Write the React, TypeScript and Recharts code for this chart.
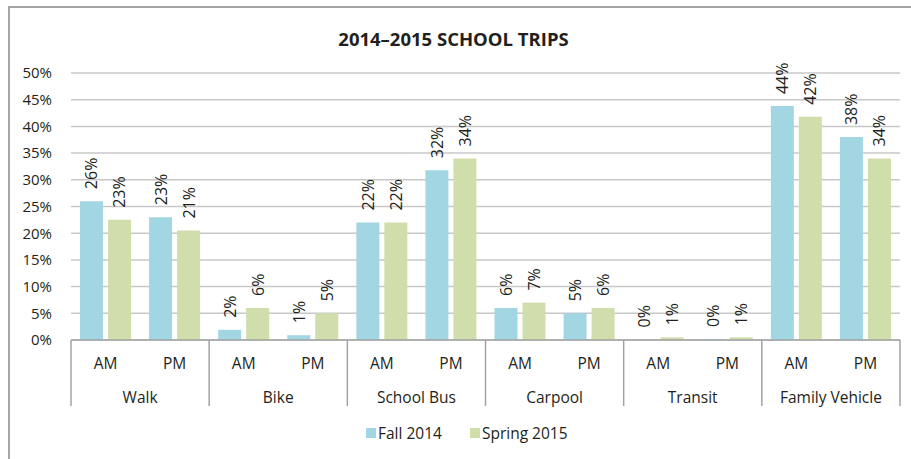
import { BarChart, Bar, XAxis, YAxis, CartesianGrid, LabelList } from 'recharts';

// Trip share by mode and time of day (percent)
const modes = ['Walk', 'Bike', 'School Bus', 'Carpool', 'Transit', 'Family Vehicle'];
const periods = ['AM', 'PM'];
const fall2014 = [26, 23, 1.9, 0.9, 22, 31.8, 6, 5, 0.1, 0.2, 43.8, 38];
const spring2015 = [22.5, 20.5, 6, 5, 22, 34, 7, 6, 0.5, 0.5, 41.8, 34];
const yTicks = [0, 5, 10, 15, 20, 25, 30, 35, 40, 45, 50];

const FALL = '#a3d6e3';
const SPRING = '#cfdeab';
const FONT = '"Open Sans", "DejaVu Sans", sans-serif';
const TEXT = '#231f20';

const CHART_W = 901;
const CHART_H = 451;
const MARGIN = { top: 65, right: 11, left: 11, bottom: 53 };
const Y_W = 50;
const PLOT_W = CHART_W - MARGIN.left - MARGIN.right - Y_W;

const data = modes.flatMap((mode, m) =>
  periods.map((period, p) => ({
    mode,
    period,
    fall: fall2014[m * 2 + p],
    spring: spring2015[m * 2 + p],
  }))
);

const slot = PLOT_W / data.length;

// two-row category axis: AM/PM on top, mode name below, with group dividers
const CategoryTick = (props: any) => {
  const { x, y, index, payload } = props;
  const row = data[index];
  const isFirst = index % 2 === 0;
  const isLast = index === data.length - 1;
  return (
    <g>
      <text
        x={x}
        y={y + 23}
        textAnchor="middle"
        dominantBaseline="central"
        fontSize={15.5}
        fontFamily={FONT}
        fill={TEXT}
      >
        {payload.value}
      </text>
      {isFirst && (
        <>
          <line x1={x - slot / 2} x2={x - slot / 2} y1={y} y2={y + 66} stroke="#a3a3a3" strokeWidth={1.5} />
          <text
            x={x + slot / 2}
            y={y + 57}
            textAnchor="middle"
            dominantBaseline="central"
            fontSize={15.5}
            fontFamily={FONT}
            fill={TEXT}
          >
            {row.mode}
          </text>
        </>
      )}
      {isLast && (
        <line x1={x + slot / 2} x2={x + slot / 2} y1={y} y2={y + 66} stroke="#a3a3a3" strokeWidth={1.5} />
      )}
    </g>
  );
};

const VerticalLabel = (props: any) => {
  const { x, y, width, value } = props;
  const cx = x + width / 2;
  const cy = y - 12;
  return (
    <text
      x={cx}
      y={cy}
      transform={`rotate(-90 ${cx} ${cy})`}
      textAnchor="start"
      dominantBaseline="central"
      fontSize={16}
      fontFamily={FONT}
      fill={TEXT}
    >
      {`${Math.round(value)}%`}
    </text>
  );
};

const App = () => {
  return (
    <div
      style={{
        position: 'absolute',
        left: 8,
        top: 6,
        width: CHART_W,
        height: CHART_H + 2,
        borderLeft: '2px solid #a6a6a6',
        borderTop: '2px solid #a6a6a6',
        fontFamily: FONT,
        color: TEXT,
      }}
    >
      <div
        style={{
          position: 'absolute',
          left: 0,
          top: 18,
          width: 887,
          textAlign: 'center',
          fontSize: 18.5,
          fontWeight: 700,
          lineHeight: '26px',
        }}
      >
        2014–2015 SCHOOL TRIPS
      </div>
      <BarChart
        width={CHART_W}
        height={CHART_H}
        data={data}
        margin={MARGIN}
        barSize={23}
        barGap={5}
      >
        <CartesianGrid vertical={false} stroke="#c8c8c8" strokeWidth={1.5} />
        <XAxis
          dataKey="period"
          height={66}
          tickLine={false}
          tickSize={0}
          tickMargin={0}
          axisLine={{ stroke: '#a3a3a3', strokeWidth: 1.5 }}
          tick={<CategoryTick />}
          interval={0}
        />
        <YAxis
          width={Y_W}
          domain={[0, 50]}
          ticks={yTicks}
          tickFormatter={(v) => `${v}%`}
          axisLine={false}
          tickLine={false}
          tickSize={0}
          tickMargin={19}
          tick={{ fontSize: 15, fontFamily: FONT, fill: TEXT }}
        />
        <Bar dataKey="fall" name="Fall 2014" fill={FALL} isAnimationActive={false}>
          <LabelList dataKey="fall" content={<VerticalLabel />} />
        </Bar>
        <Bar dataKey="spring" name="Spring 2015" fill={SPRING} isAnimationActive={false}>
          <LabelList dataKey="spring" content={<VerticalLabel />} />
        </Bar>
      </BarChart>
      <div
        style={{
          position: 'absolute',
          left: 356,
          top: 415,
          display: 'flex',
          alignItems: 'center',
          fontSize: 15.5,
          lineHeight: '20px',
        }}
      >
        <span style={{ display: 'inline-block', width: 10, height: 10, background: FALL, marginRight: 2 }} />
        <span style={{ marginRight: 28 }}>Fall 2014</span>
        <span style={{ display: 'inline-block', width: 10, height: 10, background: SPRING, marginRight: 2 }} />
        <span>Spring 2015</span>
      </div>
    </div>
  );
};

export default App;
